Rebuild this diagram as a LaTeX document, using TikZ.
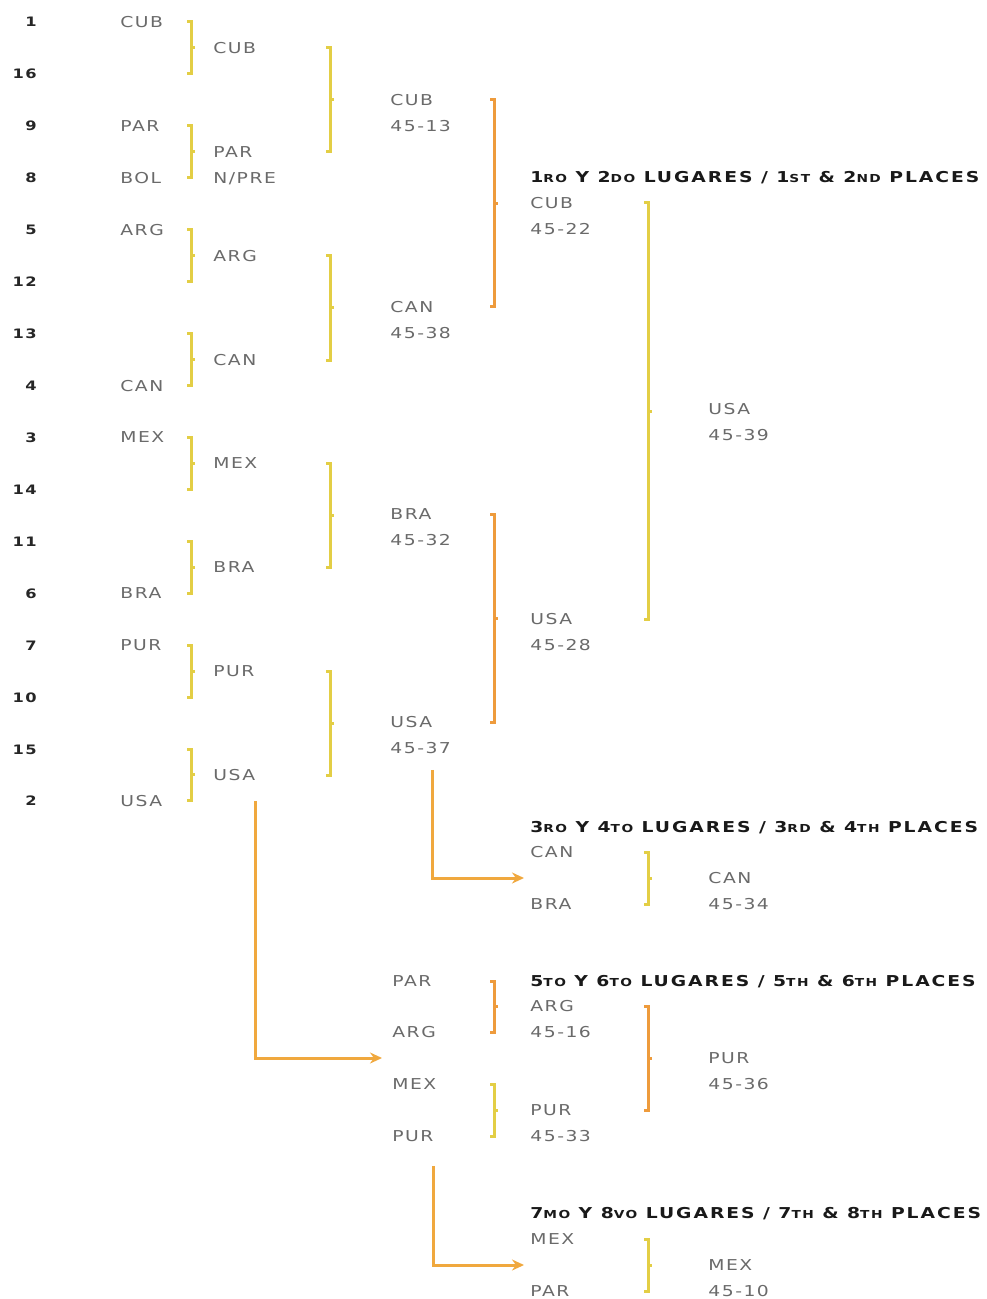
\documentclass[tikz,border=0pt]{standalone}
\usepackage{fontspec}
\setmainfont{DejaVu Sans}
\newfontfamily\basefont{DejaVu Sans}[FakeStretch=1.25, LetterSpace=10]
\newfontfamily\headfont{DejaVu Sans}[FakeStretch=1.25, LetterSpace=13]
\usepackage{xcolor}
\usetikzlibrary{arrows.meta, positioning, calc}

\definecolor{brkyellow}{HTML}{E3CE45}
\definecolor{brkorange}{HTML}{EE9B3C}
\definecolor{arrorange}{HTML}{F0A83E}
\definecolor{txtgray}{HTML}{6A6A6A}

\newcommand{\sm}[1]{{\fontsize{5.5}{6}\selectfont #1}}
% bracket: column, top node, bottom node
\newcommand{\drawbrk}[4][]{%
  \draw[brk,#1] (#2|-#3) ++(-4,0) -- ++(4,0) -- (#2|-#4) -- ++(-4,0);
  \draw[brk,#1] ($(#2|-#3)!0.5!(#2|-#4)$) -- ++(4,0);}

\begin{document}
\begin{tikzpicture}[
    x=0.5pt, y=-0.5pt,
    seed/.style={anchor=east, inner sep=0pt, text=black!85,
                 font=\basefont\bfseries\fontsize{6.5}{8}\selectfont,
                 text height=5pt, text depth=0pt},
    team/.style={anchor=west, inner sep=0pt, text=txtgray,
                 font=\basefont\fontsize{7.5}{9}\selectfont,
                 text height=5.5pt, text depth=0pt},
    head/.style={anchor=west, inner sep=0pt, text=black!90,
                 font=\headfont\bfseries\fontsize{7.5}{9}\selectfont,
                 text height=5.5pt, text depth=0pt},
    brk/.style={line width=1.5pt, brkyellow},
    arr/.style={-{Stealth[length=6pt, width=5.5pt]}, line width=1.5pt, arrorange},
]
\useasboundingbox (0,0) rectangle (986,1299);

% === Columns for the brackets ===
\coordinate (k1) at (191,0);
\coordinate (k2) at (330,0);
\coordinate (k3) at (494,0);
\coordinate (k4) at (648,0);

% === Seeds ===
\foreach \s [count=\i] in {1,16,9,8,5,12,13,4,3,14,11,6,7,10,15,2}
  \node[seed] (sd\i) at (37,{22+51.93*(\i-1)}) {\s};

% === Round 1: teams ===
\node[team] (cub) at (120,22) {CUB};
\node[team] (par) at (120,126) {PAR};
\node[team] (bol) at (120,178) {BOL};
\node[team] (arg) at (120,230) {ARG};
\node[team] (can) at (120,386) {CAN};
\node[team] (mex) at (120,437) {MEX};
\node[team] (bra) at (120,593) {BRA};
\node[team] (pur) at (120,645) {PUR};
\node[team] (usa) at (120,801) {USA};

\foreach \a/\b in {1/2,3/4,5/6,7/8,9/10,11/12,13/14,15/16}
  {\drawbrk{k1}{sd\a}{sd\b}}

% === Round 2: quarter finals ===
\node[team] (cubA) at (213,48) {CUB};
\node[team] (parA) at (213,152) {PAR};
\node[team] (npre) at (213,178) {N/PRE};
\node[team] (argA) at (213,256) {ARG};
\node[team] (canA) at (213,360) {CAN};
\node[team] (mexA) at (213,463) {MEX};
\node[team] (braA) at (213,567) {BRA};
\node[team] (purA) at (213,671) {PUR};
\node[team] (usaA) at (213,775) {USA};

\drawbrk{k2}{cubA}{parA}
\drawbrk{k2}{argA}{canA}
\drawbrk{k2}{mexA}{braA}
\drawbrk{k2}{purA}{usaA}

% === Round 3: semi finals ===
\node[team] (cubB) at (390,100) {CUB};
\node[team] (cubBs) at (390,126) {45-13};
\node[team] (canB) at (390,307) {CAN};
\node[team] (canBs) at (390,333) {45-38};
\node[team] (braB) at (390,514) {BRA};
\node[team] (braBs) at (390,540) {45-32};
\node[team] (usaB) at (390,722) {USA};
\node[team] (usaBs) at (390,748) {45-37};

\drawbrk[brkorange]{k3}{cubB}{canB}
\drawbrk[brkorange]{k3}{braB}{usaB}

% === Final: 1st & 2nd ===
\node[head] (h12) at (530,177) {1\sm{RO} Y 2\sm{DO} LUGARES / 1\sm{ST} \& 2\sm{ND} PLACES};
\node[team] (cubC) at (530,203) {CUB};
\node[team] (cubCs) at (530,229) {45-22};
\node[team] (usaC) at (530,619) {USA};
\node[team] (usaCs) at (530,645) {45-28};

\drawbrk{k4}{cubC}{usaC}

\node[team] (usaD) at (708,409) {USA};
\node[team] (usaDs) at (708,435) {45-39};

% === 3rd & 4th ===
\node[head] (h34) at (530,827) {3\sm{RO} Y 4\sm{TO} LUGARES / 3\sm{RD} \& 4\sm{TH} PLACES};
\node[team] (canE) at (530,852) {CAN};
\node[team] (braE) at (530,904) {BRA};
\node[team] (canF) at (708,878) {CAN};
\node[team] (canFs) at (708,904) {45-34};

\drawbrk{k4}{canE}{braE}

\coordinate (to34) at ($(canE.west)!0.5!(braE.west)+(-6,0)$);
\draw[arr] ([yshift=-8pt]usaB.east|-usaBs.south) |- (to34);

% === 5th & 6th ===
\node[team] (parG) at (392,981) {PAR};
\node[team] (argG) at (392,1032) {ARG};
\node[team] (mexG) at (392,1084) {MEX};
\node[team] (purG) at (392,1136) {PUR};

\node[head] (h56) at (530,981) {5\sm{TO} Y 6\sm{TO} LUGARES / 5\sm{TH} \& 6\sm{TH} PLACES};
\node[team] (argH) at (530,1006) {ARG};
\node[team] (argHs) at (530,1032) {45-16};
\node[team] (purH) at (530,1110) {PUR};
\node[team] (purHs) at (530,1136) {45-33};
\node[team] (purI) at (708,1058) {PUR};
\node[team] (purIs) at (708,1084) {45-36};

\drawbrk[brkorange]{k3}{parG}{argG}
\drawbrk{k3}{mexG}{purG}
\drawbrk[brkorange]{k4}{argH}{purH}

\coordinate (to56) at ($(argG.west)!0.5!(mexG.west)+(-10,0)$);
\draw[arr] ([yshift=-10pt]usaA.south east) |- (to56);

% === 7th & 8th ===
\node[head] (h78) at (530,1213) {7\sm{MO} Y 8\sm{VO} LUGARES / 7\sm{TH} \& 8\sm{TH} PLACES};
\node[team] (mexJ) at (530,1239) {MEX};
\node[team] (parJ) at (530,1291) {PAR};
\node[team] (mexK) at (708,1265) {MEX};
\node[team] (mexKs) at (708,1291) {45-10};

\drawbrk{k4}{mexJ}{parJ}

\coordinate (to78) at ($(mexJ.west)!0.5!(parJ.west)+(-6,0)$);
\draw[arr] ([yshift=-12pt]purG.south east) |- (to78);

\end{tikzpicture}
\end{document}
